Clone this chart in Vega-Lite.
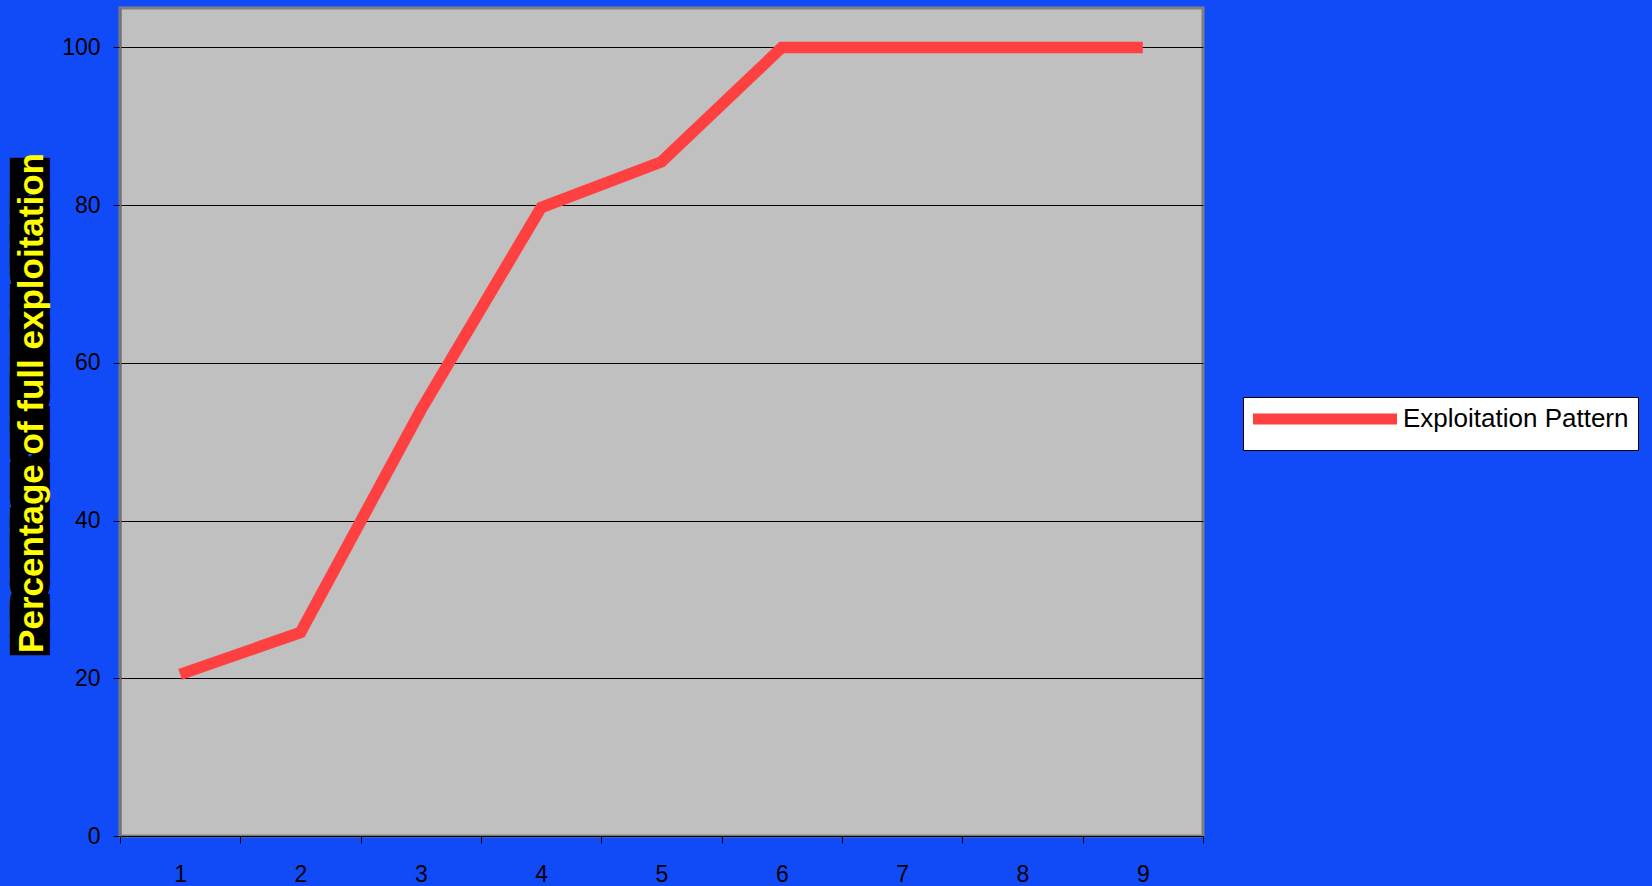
{
  "$schema": "https://vega.github.io/schema/vega-lite/v6.json",
  "width": 1083,
  "height": 828,
  "autosize": "none",
  "padding": {"left": 120, "top": 8, "right": 449, "bottom": 50},
  "background": "#114BF8",
  "title": {
    "text": "Percentage of full exploitation",
    "orient": "left",
    "color": "#FFFF00",
    "font": "Liberation Sans",
    "fontSize": 35,
    "fontWeight": "bold",
    "anchor": "middle",
    "frame": "group",
    "offset": -60,
    "baseline": "alphabetic",
    "dx": 19
  },
  "data": {
    "values": [
      {"period": "1", "pct": 20.5, "series": "Exploitation Pattern"},
      {"period": "2", "pct": 25.8, "series": "Exploitation Pattern"},
      {"period": "3", "pct": 54, "series": "Exploitation Pattern"},
      {"period": "4", "pct": 79.7, "series": "Exploitation Pattern"},
      {"period": "5", "pct": 85.5, "series": "Exploitation Pattern"},
      {"period": "6", "pct": 100, "series": "Exploitation Pattern"},
      {"period": "7", "pct": 100, "series": "Exploitation Pattern"},
      {"period": "8", "pct": 100, "series": "Exploitation Pattern"},
      {"period": "9", "pct": 100, "series": "Exploitation Pattern"}
    ]
  },
  "mark": {"type": "line", "strokeWidth": 11.5, "strokeJoin": "miter", "strokeCap": "butt"},
  "encoding": {
    "x": {
      "field": "period",
      "type": "ordinal",
      "scale": {"type": "band", "paddingInner": 0, "paddingOuter": 0},
      "axis": {
        "title": null,
        "labelAngle": 0,
        "tickBand": "extent",
        "tickSize": 7,
        "tickColor": "black",
        "domainColor": "black",
        "domainWidth": 1,
        "labelFont": "Liberation Sans",
        "labelFontSize": 23,
        "labelColor": "black",
        "labelPadding": 20,
        "grid": false
      }
    },
    "y": {
      "field": "pct",
      "type": "quantitative",
      "scale": {"domain": [0, 105], "nice": false},
      "axis": {
        "values": [0, 20, 40, 60, 80, 100],
        "title": "PERCENTAGE OF FULL EXPLOITATION",
        "titleColor": "black",
        "titleFont": "Liberation Sans",
        "titleFontSize": 25.4,
        "titleFontWeight": "bold",
        "titleAngle": -90,
        "titleX": -82,
        "titleY": 398,
        "titleAlign": "center",
        "titleBaseline": "alphabetic",
        "grid": true,
        "gridColor": "black",
        "gridWidth": 1,
        "gridOpacity": 1,
        "tickColor": "black",
        "tickSize": 7,
        "labelPadding": 13,
        "domainColor": "#707070",
        "domainWidth": 2,
        "labelFont": "Liberation Sans",
        "labelFontSize": 23,
        "labelColor": "black"
      }
    },
    "color": {
      "field": "series",
      "type": "nominal",
      "scale": {"range": ["#FF4040"]},
      "legend": {
        "title": null,
        "orient": "none",
        "legendX": 1123,
        "legendY": 389,
        "fillColor": "white",
        "strokeColor": "black",
        "padding": 9,
        "symbolType": "M-12,0H12",
        "symbolSize": 144,
        "symbolStrokeWidth": 11,
        "symbolOffset": 60,
        "labelOffset": 65,
        "labelLimit": 500,
        "labelFont": "Liberation Sans",
        "labelFontSize": 26,
        "labelColor": "black"
      }
    }
  },
  "config": {
    "view": {"fill": "#C0C0C0", "stroke": "#808080", "strokeWidth": 3},
    "style": {"guide-title": {"stroke": "black", "strokeWidth": 22, "strokeJoin": "miter", "strokeMiterLimit": 2}}
  }
}
